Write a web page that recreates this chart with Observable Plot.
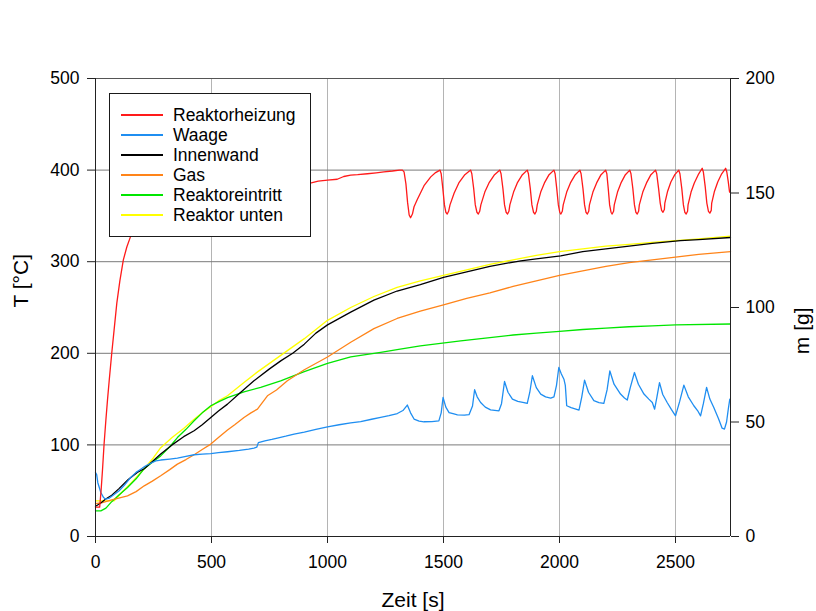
<!DOCTYPE html>
<html>
<head>
<meta charset="utf-8">
<script src="https://cdn.jsdelivr.net/npm/d3@7"></script>
<script src="https://cdn.jsdelivr.net/npm/@observablehq/plot@0.6"></script>
<style>
  body { margin: 0; background: #fff; }
  #wrap { position: relative; width: 816px; height: 611px; font-family: "Liberation Sans", Arial, sans-serif; }
  #legend { position: absolute; left: 109px; top: 93px; width: 202px; height: 144px; box-sizing: border-box;
            border: 1.5px solid #1a1a1a; background: #fff; }
  #legend .row { position: absolute; left: 0; height: 20px; line-height: 20px; font-size: 17.5px; color: #000; white-space: nowrap; }
  #legend .sw { position: absolute; left: 11px; top: 9px; width: 42px; height: 2px; }
  #legend .lb { position: absolute; left: 63px; top: 0; }
</style>
</head>
<body>
<div id="wrap"></div>
<script>
// Zeitachse und Achsenbeschriftung
const xMax = 2737;
const xTicks = [0, 500, 1000, 1500, 2000, 2500];
const tTicks = [0, 100, 200, 300, 400, 500];
const mTicks = [0, 50, 100, 150, 200];
const massToTemp = 500 / 200; // rechte Achse (m) auf gleiche Höhe wie T

const seriesNames = ["Reaktorheizung", "Waage", "Innenwand", "Gas", "Reaktoreintritt", "Reaktor unten"];
const seriesColors = ["#ff1a1a", "#1f8ef1", "#000000", "#ff8419", "#00e600", "#ffff00"];

// Messreihen: [Zeit in s, Temperatur in °C]
const reaktorheizung = [
  [0,32],[18,32],[24,50],[30,72],[37,101],[45,128],[52,150],[59,170],[70,200],[80,225],[92,255],[105,279],
  [120,302],[135,316],[149,326],[170,340],[200,353],[250,366],[300,372],[400,378],[500,381],[600,382],[700,383],
  [800,384],[900,385],[930,386],[960,388],[1000,389],[1042,390],[1070,393],[1100,394.5],[1130,395],[1172,396],
  [1210,397],[1243,398],[1280,399],[1310,400],[1323,400],
  [1330,398],[1338,385],[1345,365],[1352,351],[1358,348],[1366,352],[1373,360],[1387,368],[1416,383],[1445,392.6],[1466,397.3],[1485,400],
  [1490,396],[1497,380],[1504,362],[1510,354],[1516,352],[1522,355],[1528,362],[1546,375],[1566,386],[1592,395],[1617,400],
  [1622,396],[1630,380],[1637,362],[1644,354],[1650,352],[1656,355],[1661,362],[1678,376],[1696,386],[1720,395],[1743,400],
  [1748,396],[1756,380],[1763,362],[1770,354],[1776,352],[1782,355],[1786,362],[1802,376],[1818,386],[1840,395],[1861,400],
  [1866,396],[1874,380],[1881,362],[1888,354],[1894,352],[1900,355],[1904,362],[1919,376],[1935,386],[1955,395],[1976,400],
  [1981,396],[1988,380],[1995,362],[2001,354],[2006,352],[2012,355],[2016,362],[2031,376],[2047,386],[2068,395],[2088,400],
  [2093,396],[2101,380],[2108,362],[2114,354],[2120,352],[2126,355],[2129,362],[2144,376],[2160,386],[2179,395],[2199,400],
  [2204,396],[2210,380],[2216,362],[2222,354],[2227,352],[2233,355],[2236,362],[2250,376],[2265,386],[2284,395],[2303,400],
  [2308,396],[2316,380],[2323,362],[2329,354],[2335,352],[2341,355],[2344,362],[2359,376],[2375,386],[2394,395],[2414,400],
  [2419,396],[2427,380],[2434,364],[2440,356],[2446,354],[2452,357],[2454,364],[2466,377],[2480,387],[2497,395],[2514,400],
  [2519,396],[2527,380],[2534,362],[2540,354],[2546,352],[2552,355],[2554,362],[2567,376],[2581,386],[2598,395],[2615,402],
  [2620,398],[2628,382],[2635,364],[2642,355],[2648,353],[2654,356],[2656,364],[2668,377],[2682,387],[2699,396],[2716,402],
  [2721,398],[2727,388],[2733,376]
];

// Waage: [Zeit in s, Masse in g]
const waage = [
  [0,27.9],[5,27],[10,23.5],[23,19.2],[35,17],[44,16.3],[60,16.8],[80,18.3],[102,20],[125,22.5],[152,25.8],[175,28],
  [195,29.4],[215,30.8],[238,32],[260,33],[281,33.4],[320,33.8],[353,34.2],[390,35],[425,35.7],[460,36],[497,36.2],
  [530,36.6],[569,37],[620,37.6],[660,38.2],[683,38.6],[695,39],[702,41],[730,41.8],[760,42.4],[784,43],[820,43.8],
  [856,44.7],[900,45.6],[950,46.8],[1000,47.9],[1050,48.8],[1100,49.6],[1143,50.2],[1190,51.2],[1229,52],[1265,52.8],
  [1301,53.7],[1325,55],[1344,57.4],[1358,54],[1373,51.3],[1395,50.4],[1416,50.1],[1450,50.2],[1480,50.5],[1490,54],
  [1498,60.7],[1510,56.5],[1524,54.1],[1545,53.5],[1560,53.1],[1590,53],[1610,53.2],[1625,57],[1634,64.1],[1645,61],
  [1660,58.5],[1680,56.5],[1703,55.3],[1739,54.9],[1750,58],[1763,67.7],[1778,63],[1797,60],[1820,59],[1847,58.5],
  [1861,58.1],[1872,63],[1883,70.2],[1900,65],[1919,62.2],[1940,61],[1962,60.4],[1976,61],[1987,66],[1997,73.8],
  [2008,71],[2019,68.7],[2025,66],[2031,57.1],[2050,56.3],[2084,55.2],[2096,61],[2108,68.3],[2125,63],[2148,59.3],
  [2170,58.5],[2191,58.1],[2205,64],[2217,72.3],[2235,66.5],[2263,62.2],[2280,60.5],[2292,59.6],[2305,65],[2323,71.6],
  [2340,66.5],[2364,62.2],[2385,60],[2400,58.5],[2410,55.6],[2420,61],[2431,67.2],[2445,62],[2464,58.5],[2482,55.5],
  [2500,52.7],[2518,59],[2536,66.1],[2555,61],[2579,57.1],[2595,55],[2608,52.7],[2620,58],[2634,65.1],[2648,60],
  [2665,56.3],[2685,51.5],[2701,47.3],[2711,46.9],[2720,50],[2728,56],[2734,60]
];

const innenwand = [
  [0,33],[20,36],[44,41],[70,45],[100,52],[140,62],[180,70],[210,74],[250,83],[281,90],[330,100],[380,109],[425,115.4],
  [460,122],[497,130],[530,137],[569,144.5],[620,156],[683,170],[750,183],[800,192],[850,200],[900,210],[950,222],
  [1000,231],[1100,245],[1200,258],[1300,268],[1400,275],[1500,283],[1600,289],[1700,295],[1833,301],[1900,303],
  [2005,306.4],[2100,311],[2200,314],[2300,317],[2400,320],[2521,323],[2600,324],[2737,326.4]
];

const gas = [
  [0,36],[30,37],[66,39.7],[100,42],[138,44.4],[175,49],[210,55.3],[245,60.5],[281,66.3],[320,73],[353,79],[390,84],
  [425,89.2],[460,95],[497,100.9],[530,108],[569,116.2],[600,122],[640,130],[670,135],[698,139],[741,153.6],[780,160],
  [827,170],[900,182],[1000,196],[1100,212],[1200,227],[1300,238],[1400,246],[1500,253],[1600,260],[1700,266],
  [1800,273],[1900,279],[2000,285],[2100,290],[2200,295],[2300,299],[2400,302],[2500,305],[2600,308],[2737,311]
];

const reaktoreintritt = [
  [0,28],[23,28],[45,31],[66,37],[100,45],[138,53.5],[175,63],[210,74],[245,81],[281,88],[320,98],[353,108],[390,117],
  [425,126.3],[460,135],[497,142.7],[530,147],[569,151.7],[640,158],[712,162.7],[798,170],[900,180],[1000,189],
  [1100,196],[1229,201],[1300,204],[1400,208],[1574,213.6],[1700,217],[1800,220],[1900,222],[2000,224],[2100,226],
  [2200,227.5],[2300,229],[2400,230],[2500,231],[2737,232]
];

const reaktorUnten = [
  [0,39],[40,39],[80,39],[120,50],[160,60],[210,74],[250,86],[281,97],[330,108],[380,118],[425,128],[460,135],
  [497,141.6],[530,148],[569,153.6],[640,168],[700,180],[800,198],[900,216],[1000,236],[1100,250],[1200,262],
  [1300,272],[1400,279],[1500,285],[1600,291],[1700,297],[1800,302],[1900,307],[2000,311],[2100,314],[2200,317],
  [2300,319],[2400,321],[2500,323],[2600,325],[2737,328]
];

const lineOpts = (color) => ({x: d => d[0], y: d => d[1], stroke: color, strokeWidth: 1.3});

const chart = Plot.plot({
  width: 816,
  height: 611,
  marginLeft: 95,
  marginRight: 86,
  marginTop: 78,
  marginBottom: 75,
  x: {domain: [0, xMax]},
  y: {domain: [0, 500]},
  style: {fontFamily: '"Liberation Sans", Arial, sans-serif', fontSize: "17.5px", color: "#000", background: "#fff"},
  marks: [
    Plot.gridX(xTicks.filter(d => d > 0), {stroke: "#b4b4b4", strokeOpacity: 1}),
    Plot.gridY(tTicks.filter(d => d > 0 && d < 500), {stroke: "#7a7a7a", strokeOpacity: 1}),
    Plot.ruleY([500], {stroke: "#555"}),
    Plot.line(reaktorUnten, lineOpts(seriesColors[5])),
    Plot.line(reaktoreintritt, lineOpts(seriesColors[4])),
    Plot.line(gas, lineOpts(seriesColors[3])),
    Plot.line(innenwand, lineOpts(seriesColors[2])),
    Plot.line(waage, {x: d => d[0], y: d => d[1] * massToTemp, stroke: seriesColors[1], strokeWidth: 1.3}),
    Plot.line(reaktorheizung, lineOpts(seriesColors[0])),
    Plot.ruleX([0, xMax], {stroke: "#222"}),
    Plot.ruleY([0], {stroke: "#222"}),
    Plot.axisX({ticks: xTicks, tickFormat: d => String(d), tickSize: 7, tickPadding: 12, label: null, stroke: "#222"}),
    Plot.axisY({ticks: tTicks, tickFormat: d => String(d), tickSize: 8, tickPadding: 8, label: null, stroke: "#222"}),
    Plot.axisY({anchor: "right", ticks: mTicks.map(m => m * massToTemp), tickFormat: d => String(d / massToTemp),
                tickSize: 8, tickPadding: 7, label: null, stroke: "#222"}),
    Plot.text(["Zeit [s]"], {text: d => d, frameAnchor: "bottom", dy: 64, fontSize: 21, lineAnchor: "middle"}),
    Plot.text(["T [°C]"], {text: d => d, frameAnchor: "left", dx: -74, rotate: -90, fontSize: 21, lineAnchor: "middle"}),
    Plot.text(["m [g]"], {text: d => d, frameAnchor: "right", dx: 72, rotate: -90, fontSize: 21, lineAnchor: "middle"})
  ]
});

const wrap = document.getElementById("wrap");
wrap.appendChild(chart);

// Legende
const legend = document.createElement("div");
legend.id = "legend";
seriesNames.forEach((name, i) => {
  const row = document.createElement("div");
  row.className = "row";
  row.style.top = (10.8 + 20 * i) + "px";
  const sw = document.createElement("div");
  sw.className = "sw";
  sw.style.background = seriesColors[i];
  const lb = document.createElement("span");
  lb.className = "lb";
  lb.textContent = name;
  row.appendChild(sw);
  row.appendChild(lb);
  legend.appendChild(row);
});
wrap.appendChild(legend);
</script>
</body>
</html>
